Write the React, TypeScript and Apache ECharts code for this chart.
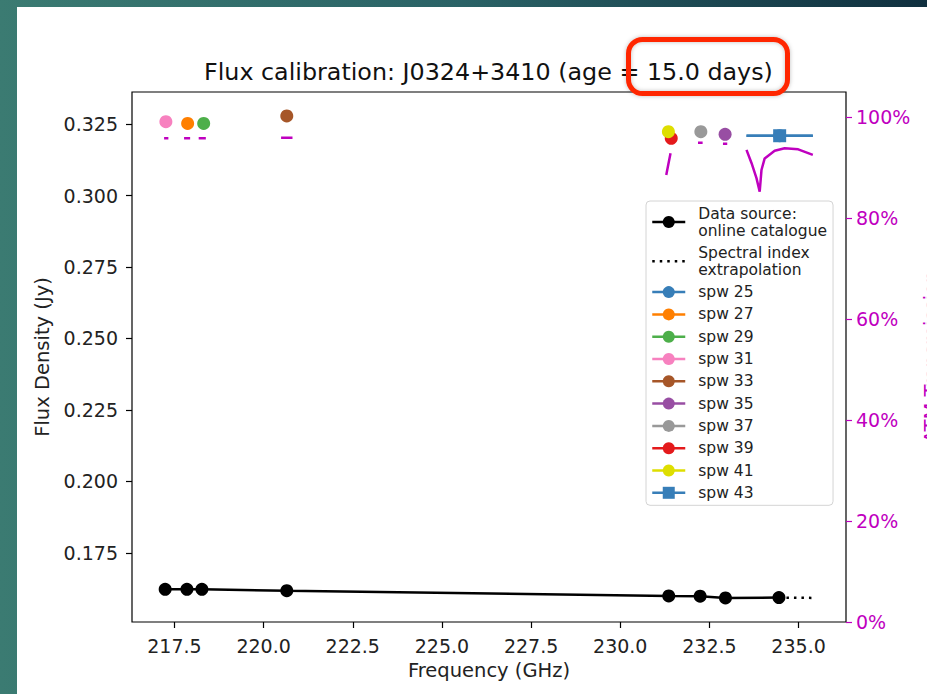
import React, { useEffect, useRef } from "react";
import * as echarts from "echarts";

// ---- data ----
const titleText = "Flux calibration: J0324+3410 (age = 15.0 days)";

const xTicks = [217.5, 220.0, 222.5, 225.0, 227.5, 230.0, 232.5, 235.0];
const yTicks = [0.175, 0.2, 0.225, 0.25, 0.275, 0.3, 0.325];
const atmTicks = [0, 0.2, 0.4, 0.6, 0.8, 1.0];

// online catalogue (black)
const catFreq = [217.24, 217.85, 218.27, 220.65, 231.36, 232.24, 232.95, 234.45];
const catFlux = [0.1623, 0.1623, 0.1623, 0.1618, 0.16, 0.1599, 0.1593, 0.1594];

// spectral index extrapolation (dotted)
const extrapFreq = [234.45, 235.39];
const extrapFlux = [0.1594, 0.1593];

// measured spws
const spwNames = ["spw 25", "spw 27", "spw 29", "spw 31", "spw 33", "spw 35", "spw 37", "spw 39", "spw 41", "spw 43"];
const spwFreq = [234.47, 217.87, 218.32, 217.26, 220.65, 232.94, 232.26, 231.43, 231.35, 234.47];
const spwFlux = [0.3209, 0.3252, 0.3252, 0.3258, 0.3278, 0.3214, 0.3223, 0.32, 0.3223, 0.3209];
const spwHalfWidth = [0.93, 0.06, 0.06, 0.06, 0.14, 0.06, 0.06, 0.06, 0.06, 0.93];
const spwColors = ["#377eb8", "#ff7f00", "#4daf4a", "#f781bf", "#a65628", "#984ea3", "#999999", "#e41a1c", "#dede00", "#377eb8"];
const spwMarkers = ["circle", "circle", "circle", "circle", "circle", "circle", "circle", "circle", "circle", "rect"];

// ATM transmission segments (freq GHz, transmission fraction)
const atmWide = [
  [233.54, 0.935], [233.68, 0.909], [233.82, 0.879], [233.91, 0.852], [233.96, 0.895],
  [234.05, 0.918], [234.33, 0.933], [234.61, 0.938], [234.99, 0.936], [235.4, 0.925],
];
const atmSpw27 = [[217.77, 0.958], [217.94, 0.958]];
const atmSpw29 = [[218.18, 0.958], [218.38, 0.958]];
const atmSpw31 = [[217.21, 0.958], [217.33, 0.958]];
const atmSpw33 = [[220.49, 0.959], [220.81, 0.959]];
const atmSpw35 = [[232.88, 0.947], [233.0, 0.947]];
const atmSpw37 = [[232.18, 0.949], [232.31, 0.949]];
const atmSpw39 = [[231.29, 0.885], [231.35, 0.907], [231.41, 0.928]];
const atmSegments = [atmWide, atmSpw27, atmSpw29, atmSpw31, atmSpw33, atmSpw35, atmSpw37, atmSpw39];

const catName = "Data source:\nonline catalogue";
const extrapName = "Spectral index\nextrapolation";

const FONT = "DejaVu Sans";
const MAGENTA = "#bf00bf";

export default function App() {
  const ref = useRef<HTMLDivElement>(null);

  useEffect(() => {
    if (!ref.current) return;
    const chart = echarts.init(ref.current, null, { renderer: "svg" });

    const series: any[] = [];

    atmSegments.forEach((seg) => {
      series.push({
        type: "line",
        yAxisIndex: 1,
        data: seg,
        symbol: "none",
        lineStyle: { color: MAGENTA, width: 2.5, cap: "butt" },
        z: 2,
        silent: true,
      });
    });

    series.push({
      type: "line",
      name: catName,
      data: catFreq.map((f, i) => [f, catFlux[i]]),
      symbol: "circle",
      symbolSize: 13,
      itemStyle: { color: "#000" },
      lineStyle: { color: "#000", width: 2.5 },
      z: 3,
    });

    series.push({
      type: "line",
      name: extrapName,
      data: extrapFreq.map((f, i) => [f, extrapFlux[i]]),
      symbol: "none",
      itemStyle: { color: "#000" },
      lineStyle: { color: "#000", width: 2.5, type: [2.5, 5] },
      z: 3,
    });

    spwNames.forEach((name, i) => {
      const f = spwFreq[i];
      const v = spwFlux[i];
      const hw = spwHalfWidth[i];
      series.push({
        type: "line",
        name,
        data: [
          { value: [f - hw, v], symbol: "none" },
          { value: [f, v] },
          { value: [f + hw, v], symbol: "none" },
        ],
        symbol: spwMarkers[i],
        symbolSize: 13,
        showSymbol: true,
        itemStyle: { color: spwColors[i] },
        lineStyle: { color: spwColors[i], width: 2.5 },
        z: 4 + i * 0.01,
      });
    });

    const tickLabel = { fontFamily: FONT, fontSize: 19, color: "#222" };

    const option: any = {
      animation: false,
      backgroundColor: new echarts.graphic.LinearGradient(0, 0, 1, 0, [
        { offset: 0, color: "#3b7b72" },
        { offset: 0.5, color: "#2a6266" },
        { offset: 1, color: "#10303f" },
      ]),
      title: {
        text: titleText,
        left: 199,
        top: 55,
        textStyle: { fontFamily: FONT, fontSize: 23.8, fontWeight: "normal", color: "#111" },
      },
      grid: {
        left: 132,
        right: 81,
        top: 92,
        bottom: 72,
        show: true,
        borderColor: "#000",
        borderWidth: 1.2,
        backgroundColor: "transparent",
        containLabel: false,
        outerBoundsMode: "none",
      },
      legend: {
        data: [
          catName,
          { name: extrapName, itemStyle: { color: "rgba(0,0,0,0)", opacity: 0, borderWidth: 0 } },
          ...spwNames,
        ],
        orient: "vertical",
        left: 646,
        top: 201,
        itemWidth: 33,
        itemHeight: 15,
        itemGap: 5.3,
        padding: [4, 6, 4, 5],
        backgroundColor: "rgba(255,255,255,0.85)",
        borderColor: "#d4d4d4",
        borderWidth: 1,
        borderRadius: 4,
        selectedMode: false,
        lineStyle: { width: 2.5 },
        textStyle: {
          fontFamily: FONT,
          fontSize: 15.5,
          lineHeight: 17,
          color: "#222",
          padding: [0, 0, 0, 8],
        },
      },
      xAxis: {
        type: "value",
        min: 216.31,
        max: 236.33,
        axisLine: { show: false },
        splitLine: { show: false },
        axisTick: { show: true, length: 6, lineStyle: { color: "#000", width: 1.2 }, customValues: xTicks },
        axisLabel: { ...tickLabel, margin: 14, customValues: xTicks, formatter: (v: number) => v.toFixed(1) },
        name: "Frequency (GHz)",
        nameLocation: "middle",
        nameGap: 38,
        nameTextStyle: { fontFamily: FONT, fontSize: 19.5, color: "#222" },
      },
      yAxis: [
        {
          type: "value",
          position: "left",
          min: 0.15087,
          max: 0.33619,
          axisLine: { show: false },
          splitLine: { show: false },
          axisTick: { show: true, length: 6, lineStyle: { color: "#000", width: 1.2 }, customValues: yTicks },
          axisLabel: { ...tickLabel, margin: 14, customValues: yTicks, formatter: (v: number) => v.toFixed(3) },
          name: "Flux Density (Jy)",
          nameLocation: "middle",
          nameRotate: 90,
          nameGap: 80,
          nameTextStyle: { fontFamily: FONT, fontSize: 19.5, color: "#222" },
        },
        {
          type: "value",
          position: "right",
          min: 0,
          max: 1.0495,
          axisLine: { show: false },
          splitLine: { show: false },
          axisTick: { show: true, length: 6, lineStyle: { color: MAGENTA, width: 1.2 }, customValues: atmTicks },
          axisLabel: {
            fontFamily: FONT,
            fontSize: 19,
            color: MAGENTA,
            margin: 10,
            customValues: atmTicks,
            formatter: (v: number) => Math.round(v * 100) + "%",
          },
          name: "ATM Transmission",
          nameLocation: "middle",
          nameRotate: 90,
          nameGap: 70,
          nameTextStyle: { fontFamily: FONT, fontSize: 19.5, color: MAGENTA },
        },
      ],
      graphic: [
        {
          type: "rect",
          z: -100,
          silent: true,
          shape: { x: 17, y: 7, width: 910, height: 687 },
          style: { fill: "#ffffff" },
        },
        {
          type: "rect",
          z: 100,
          silent: true,
          shape: { x: 628.5, y: 39.5, width: 159, height: 54, r: 14 },
          style: {
            fill: "none",
            stroke: "#ff2600",
            lineWidth: 5,
            shadowBlur: 4,
            shadowColor: "rgba(0,0,0,0.25)",
          },
        },
      ],
      series,
    };

    chart.setOption(option);
    return () => chart.dispose();
  }, []);

  return (
    <div
      ref={ref}
      style={{ position: "fixed", left: 0, top: 0, width: 927, height: 694 }}
    />
  );
}
